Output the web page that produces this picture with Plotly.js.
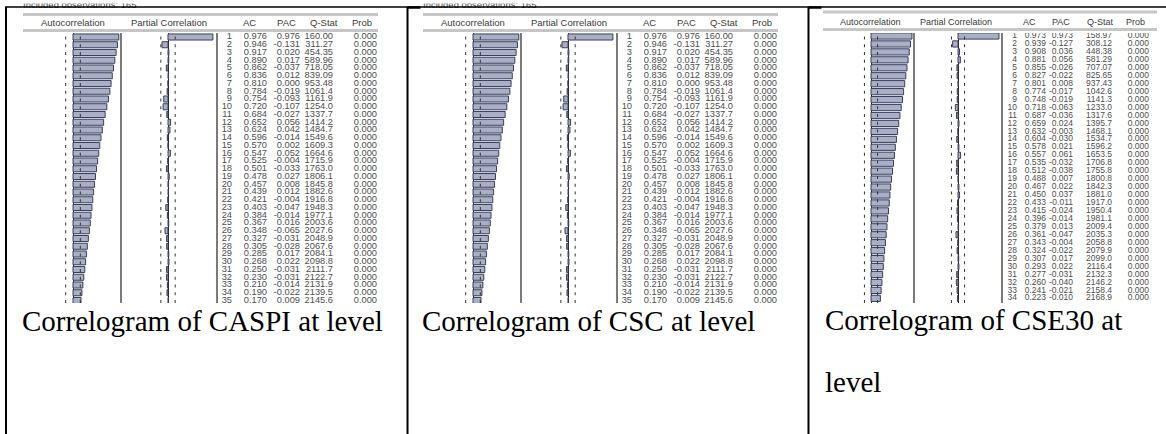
<!DOCTYPE html>
<html><head><meta charset="utf-8">
<script src="https://cdn.plot.ly/plotly-3.0.1.min.js"></script>
<style>html,body{margin:0;padding:0;background:#fff}#chart{width:1166px;height:434px}</style>
</head><body><div id="chart"></div>
<script>
// ---------------- DATA ----------------
const nObs = 165;
const lags35 = [1,2,3,4,5,6,7,8,9,10,11,12,13,14,15,16,17,18,19,20,21,22,23,24,25,26,27,28,29,30,31,32,33,34,35];
const lags34 = [1,2,3,4,5,6,7,8,9,10,11,12,13,14,15,16,17,18,19,20,21,22,23,24,25,26,27,28,29,30,31,32,33,34];

const caspiAC = [0.976,0.946,0.917,0.890,0.862,0.836,0.810,0.784,0.754,0.720,0.684,0.652,0.624,0.596,0.570,0.547,0.525,0.501,0.478,0.457,0.439,0.421,0.403,0.384,0.367,0.348,0.327,0.305,0.285,0.268,0.250,0.230,0.210,0.190,0.170];
const caspiPAC = [0.976,-0.131,0.020,0.017,-0.037,0.012,0.000,-0.019,-0.093,-0.107,-0.027,0.056,0.042,-0.014,0.002,0.052,-0.004,-0.033,0.027,0.008,0.012,-0.004,-0.047,-0.014,0.016,-0.065,-0.031,-0.028,0.017,0.022,-0.031,-0.031,-0.014,-0.022,0.009];
const caspiQ = [160.00,311.27,454.35,589.96,718.05,839.09,953.48,1061.4,1161.9,1254.0,1337.7,1414.2,1484.7,1549.6,1609.3,1664.6,1715.9,1763.0,1806.1,1845.8,1882.6,1916.8,1948.3,1977.1,2003.6,2027.6,2048.9,2067.6,2084.1,2098.8,2111.7,2122.7,2131.9,2139.5,2145.6];
const caspiProb = [0,0,0,0,0,0,0,0,0,0,0,0,0,0,0,0,0,0,0,0,0,0,0,0,0,0,0,0,0,0,0,0,0,0,0];

const cscAC = [0.976,0.946,0.917,0.890,0.862,0.836,0.810,0.784,0.754,0.720,0.684,0.652,0.624,0.596,0.570,0.547,0.525,0.501,0.478,0.457,0.439,0.421,0.403,0.384,0.367,0.348,0.327,0.305,0.285,0.268,0.250,0.230,0.210,0.190,0.170];
const cscPAC = [0.976,-0.131,0.020,0.017,-0.037,0.012,0.000,-0.019,-0.093,-0.107,-0.027,0.056,0.042,-0.014,0.002,0.052,-0.004,-0.033,0.027,0.008,0.012,-0.004,-0.047,-0.014,0.016,-0.065,-0.031,-0.028,0.017,0.022,-0.031,-0.031,-0.014,-0.022,0.009];
const cscQ = [160.00,311.27,454.35,589.96,718.05,839.09,953.48,1061.4,1161.9,1254.0,1337.7,1414.2,1484.7,1549.6,1609.3,1664.6,1715.9,1763.0,1806.1,1845.8,1882.6,1916.8,1948.3,1977.1,2003.6,2027.6,2048.9,2067.6,2084.1,2098.8,2111.7,2122.7,2131.9,2139.5,2145.6];
const cscProb = [0,0,0,0,0,0,0,0,0,0,0,0,0,0,0,0,0,0,0,0,0,0,0,0,0,0,0,0,0,0,0,0,0,0,0];

const cse30AC = [0.973,0.939,0.908,0.881,0.855,0.827,0.801,0.774,0.748,0.718,0.687,0.659,0.632,0.604,0.578,0.557,0.535,0.512,0.488,0.467,0.450,0.433,0.415,0.396,0.379,0.361,0.343,0.324,0.307,0.293,0.277,0.260,0.241,0.223];
const cse30PAC = [0.973,-0.127,0.036,0.056,-0.026,-0.022,0.008,-0.017,-0.019,-0.063,-0.036,0.024,-0.003,-0.030,0.021,0.061,-0.032,-0.038,0.007,0.022,0.037,-0.011,-0.024,-0.014,0.013,-0.047,-0.004,-0.022,0.017,0.022,-0.031,-0.040,-0.021,-0.010];
const cse30Q = [158.97,308.12,448.38,581.29,707.07,825.65,937.43,1042.6,1141.3,1233.0,1317.6,1395.7,1468.1,1534.7,1596.2,1653.5,1706.8,1755.8,1800.8,1842.3,1881.0,1917.0,1950.4,1981.1,2009.4,2035.3,2058.8,2079.9,2099.0,2116.4,2132.3,2146.2,2158.4,2168.9];
const cse30Prob = [0,0,0,0,0,0,0,0,0,0,0,0,0,0,0,0,0,0,0,0,0,0,0,0,0,0,0,0,0,0,0,0,0,0];

const headerLabels = ['Autocorrelation','Partial Correlation','AC','PAC','Q-Stat','Prob'];
const obsLabel = 'Included observations: ' + nObs;
const captions = [['Correlogram of CASPI at level'],['Correlogram of CSC at level'],['Correlogram of CSE30 at','level']];

// ---------------- LAYOUT GEOMETRY (pixels) ----------------
const W = 1166, H = 434;
const X = v => v / W, Y = v => 1 - v / H;

function geomA(o){
  return {
    band:[23+o,378+o], bandY:[14.5,30.5], headY:22,
    headX:[73,169,249,286,324,362].map(c=>c+o),
    rowTop:33,rowBot:303,lag1:37,step:7.75,
    ac:{zero:73+o,scale:47,l:50+o,r:121+o},
    pac:{zero:168+o,scale:46,l:140+o,r:217+o},
    tab:{l:217+o,r:381+o,cols:[232,267,300,333,377].map(c=>c+o)},
    fNum:9.3, fHead:9.5, obs:true,
    cap:{x:20+o, y:[321]}
  };
}
const geomC = {
  band:[823,1157], bandY:[12,29.5], headY:22,
  headX:[870,956,1029,1061,1100,1135],
  rowTop:33,rowBot:303,lag1:36,step:7.95,
  ac:{zero:871,scale:42.1,l:850,r:914},
  pac:{zero:958,scale:42.1,l:930,r:1002},
  tab:{l:1002,r:1162,cols:[1017,1046,1073,1112,1149]},
  fNum:8.5, fHead:9, obs:false,
  cap:{x:823, y:[320,382]}
};

const panels = [
  {lags:lags35, ac:caspiAC, pac:caspiPAC, q:caspiQ, prob:caspiProb, g:geomA(0), cap:captions[0]},
  {lags:lags35, ac:cscAC, pac:cscPAC, q:cscQ, prob:cscProb, g:geomA(400), cap:captions[1]},
  {lags:lags34, ac:cse30AC, pac:cse30PAC, q:cse30Q, prob:cse30Prob, g:geomC, cap:captions[2]}
];

const BAR_FILL = '#a9afc7', BAR_LINE = '#3b3e5a', NUM_COL = '#4e4e4e', HEAD_COL = '#3a3a3a';
const ci = 2/Math.sqrt(nObs);

const data = [];
const layout = {
  width:W, height:H, margin:{l:0,r:0,t:0,b:0,pad:0},
  paper_bgcolor:'#fff', plot_bgcolor:'rgba(0,0,0,0)', showlegend:false,
  shapes:[], annotations:[]
};
const hidden = {showgrid:false, showticklabels:false, ticks:'', showline:false, zeroline:false, fixedrange:true};

let ax = 1;
panels.forEach((p, i) => {
  const g = p.g;
  const yName = 'y' + (i+1);
  const yTopLag = 1 - (g.lag1 - g.rowTop)/g.step;
  const yBotLag = 1 + (g.rowBot - g.lag1)/g.step;
  const xAC = ax++, xPAC = ax++, xTab = ax++;
  layout['yaxis' + (i+1)] = Object.assign({}, hidden, {domain:[Y(g.rowBot), Y(g.rowTop)], range:[yBotLag, yTopLag], anchor:'x'+xAC});
  layout['xaxis' + xAC] = Object.assign({}, hidden, {domain:[X(g.ac.l), X(g.ac.r)], range:[(g.ac.l-g.ac.zero)/g.ac.scale, (g.ac.r-g.ac.zero)/g.ac.scale], anchor:yName, zeroline:true, zerolinecolor:'#222', zerolinewidth:1});
  layout['xaxis' + xPAC] = Object.assign({}, hidden, {domain:[X(g.pac.l), X(g.pac.r)], range:[(g.pac.l-g.pac.zero)/g.pac.scale, (g.pac.r-g.pac.zero)/g.pac.scale], anchor:yName, zeroline:true, zerolinecolor:'#222', zerolinewidth:1});
  layout['xaxis' + xTab] = Object.assign({}, hidden, {domain:[X(g.tab.l), X(g.tab.r)], range:[g.tab.l, g.tab.r], anchor:yName});

  // confidence bands (dotted)
  [xAC, xPAC].forEach(xa => {
    [-ci, ci].forEach(c => {
      data.push({type:'scatter', mode:'lines', x:[c,c], y:[yBotLag, yTopLag], xaxis:'x'+xa, yaxis:yName,
        line:{color:'#333', width:1, dash:'3px,4.75px'}, hoverinfo:'skip'});
    });
  });
  // bars
  data.push({type:'bar', orientation:'h', x:p.ac, y:p.lags, base:0, width:0.78, xaxis:'x'+xAC, yaxis:yName,
    marker:{color:BAR_FILL, line:{color:BAR_LINE, width:1}}, hoverinfo:'skip'});
  data.push({type:'bar', orientation:'h', x:p.pac, y:p.lags, base:0, width:0.78, xaxis:'x'+xPAC, yaxis:yName,
    marker:{color:BAR_FILL, line:{color:BAR_LINE, width:1}}, hoverinfo:'skip'});
  // numbers table
  const cols = [
    p.lags.map(v=>String(v)),
    p.ac.map(v=>v.toFixed(3)),
    p.pac.map(v=>v.toFixed(3)),
    p.q.map(v=>v.toPrecision(5)),
    p.prob.map(v=>v.toFixed(3))
  ];
  cols.forEach((txt, k) => {
    data.push({type:'scatter', mode:'text', x:p.lags.map(()=>g.tab.cols[k]), y:p.lags, text:txt,
      textposition:'middle left', xaxis:'x'+xTab, yaxis:yName, cliponaxis:true,
      textfont:{family:'Liberation Sans, Arial, sans-serif', size:g.fNum, color:NUM_COL}, hoverinfo:'skip'});
  });

  // separators
  [g.ac.r, g.pac.r].forEach(sx => {
    layout.shapes.push({type:'line', xref:'paper', yref:'paper', x0:X(sx), x1:X(sx), y0:Y(g.rowBot), y1:Y(g.rowTop), line:{color:'#222', width:1.2}});
  });
  // header bands
  g.bandY.forEach(by => {
    layout.shapes.push({type:'line', xref:'paper', yref:'paper', x0:X(g.band[0]), x1:X(g.band[1]), y0:Y(by), y1:Y(by), line:{color:'#c6c6c6', width:3}});
  });
  // header labels
  headerLabels.forEach((t, k) => {
    layout.annotations.push({text:t, xref:'paper', yref:'paper', x:X(g.headX[k]), y:Y(g.headY), xanchor:'center', yanchor:'middle',
      showarrow:false, font:{family:'Liberation Sans, Arial, sans-serif', size:g.fHead, color:HEAD_COL}});
  });
  // captions
  p.cap.forEach((t, k) => {
    layout.annotations.push({text:t, xref:'paper', yref:'paper', x:X(g.cap.x), y:Y(g.cap.y[k]), xanchor:'left', yanchor:'middle',
      showarrow:false, font:{family:'Liberation Serif, Times New Roman, serif', size:29, color:'#000'}});
  });
});

// partially hidden "Included observations" line at very top of first two images
layout['xaxis' + ax] = Object.assign({}, hidden, {domain:[0,1], range:[0,W], anchor:'y4'});
layout.yaxis4 = Object.assign({}, hidden, {domain:[Y(33), Y(3.5)], range:[33,3.5], anchor:'x'+ax});
const obsPanels = panels.filter(p=>p.g.obs);
data.push({type:'scatter', mode:'text', x:obsPanels.map(p=>p.g.band[0]), y:obsPanels.map(()=>5.5),
  text:obsPanels.map(()=>obsLabel), textposition:'middle right', xaxis:'x'+ax, yaxis:'y4', cliponaxis:true,
  textfont:{family:'Liberation Sans, Arial, sans-serif', size:9.5, color:NUM_COL}, hoverinfo:'skip'});

// table borders (Word table)
const B = '#000';
layout.shapes.push({type:'line', xref:'paper', yref:'paper', x0:X(5), x1:X(W), y0:Y(7), y1:Y(7), line:{color:B, width:1.5}, layer:'above'});
layout.shapes.push({type:'line', xref:'paper', yref:'paper', x0:X(6), x1:X(6), y0:Y(7), y1:Y(H), line:{color:B, width:2}, layer:'above'});
[407.5, 808.5].forEach(dx => {
  layout.shapes.push({type:'line', xref:'paper', yref:'paper', x0:X(dx), x1:X(dx), y0:Y(7), y1:Y(H), line:{color:B, width:2}, layer:'above'});
  layout.shapes.push({type:'line', xref:'paper', yref:'paper', x0:X(dx), x1:X(dx+13), y0:Y(7.5), y1:Y(7.5), line:{color:B, width:2.5}, layer:'above'});
});

Plotly.newPlot('chart', data, layout, {staticPlot:true, displayModeBar:false});
</script>
</body></html>
